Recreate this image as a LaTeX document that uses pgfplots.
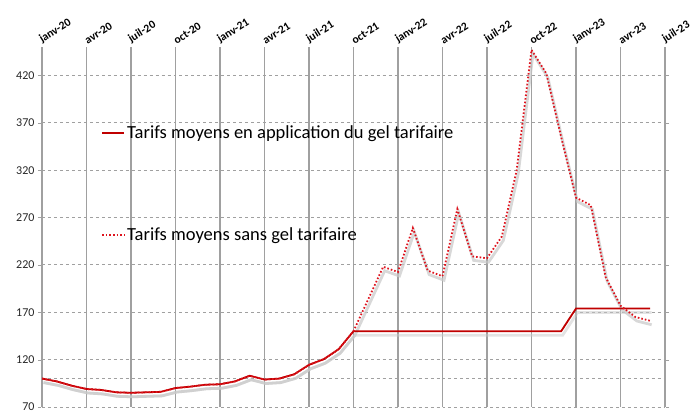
\documentclass[border=0pt]{standalone}
\usepackage{fontspec}
\setmainfont{Carlito}
\usepackage{pgfplots}
\pgfplotsset{compat=1.18}
\usetikzlibrary{calc}

\definecolor{gelred}{RGB}{192,0,0}
\definecolor{dotred}{RGB}{222,20,30}
\definecolor{gridgray}{RGB}{160,160,160}
\definecolor{shadowgray}{RGB}{200,200,200}

% mois depuis janv-20, tarifs moyens (base 100)
\pgfplotstableread{
m avec sans
0 100 100
1 97 97
2 92.5 92.5
3 89 89
4 88 88
5 85.5 85.5
6 85 85
7 85.5 85.5
8 86 86
9 90 90
10 91.5 91.5
11 93.5 93.5
12 94 94
13 97 97
14 103 103
15 99 99
16 100 100
17 104.5 104.5
18 114.5 114.5
19 120.5 120.5
20 131 131
21 150 150
22 150 184
23 150 218
24 150 212.5
25 150 259
26 150 214
27 150 208
28 150 279
29 150 229
30 150 227
31 150 250
32 150 320
33 150 447
34 150 422
35 150 355
36 174 291
37 174 283
38 174 207
39 174 177
40 174 165
41 174 161
}\tarifs

\begin{document}
\begin{tikzpicture}
\begin{axis}[
    scale only axis,
    width=623bp, height=360bp,
    xmin=0, xmax=42,
    ymin=70, ymax=450,
    axis line style={draw=none},
    xtick={0,3,...,42},
    xticklabels={janv-20,avr-20,juil-20,oct-20,janv-21,avr-21,juil-21,oct-21,janv-22,avr-22,juil-22,oct-22,janv-23,avr-23,juil-23},
    xticklabel pos=upper,
    xtick style={draw=none},
    xticklabel style={font=\bfseries\fontsize{11.5bp}{13bp}\selectfont, rotate=32, anchor=south west, inner sep=1bp, xshift=-1bp, yshift=-3bp},
    ytick={70,120,...,420},
    ytick style={gridgray, dashed},
    major tick length=4bp,
    tick align=outside,
    yticklabel style={font=\fontsize{12bp}{14bp}\selectfont, text=black!85},
    /pgf/number format/assume math mode=true,
    xmajorgrids, ymajorgrids,
    x grid style={gridgray, line width=1.1bp},
    y grid style={gridgray, dashed, line width=0.8bp},
    extra y ticks={100},
    extra y tick labels={},
    extra y tick style={grid=major, major grid style={gridgray, solid, line width=0.9bp}, major tick length=0bp},
    legend style={at={(rel axis cs:0.095,0.793)}, anchor=north west, draw=none, fill=none,
        font=\fontsize{18.5bp}{22bp}\selectfont, row sep=84bp, inner xsep=0bp,
        /tikz/every odd column/.append style={column sep=0bp}},
    legend cell align=left,
    legend image code/.code={\draw[#1] (0bp,0bp) -- (22bp,0bp);},
]
% ombres
\addplot[forget plot, shadowgray, line width=2.8bp, opacity=0.7, transform canvas={xshift=1.5bp, yshift=-4bp}] table[x=m, y=sans] {\tarifs};
\addplot[forget plot, shadowgray, line width=2.8bp, opacity=0.5, transform canvas={xshift=1.5bp, yshift=-4bp}] table[x=m, y=avec] {\tarifs};
% series
\addplot[gelred, line width=1.8bp] table[x=m, y=avec] {\tarifs};
\addlegendentry{Tarifs moyens en application du gel tarifaire}
\addplot[dotred, line width=1.8bp, dash pattern=on 1.6bp off 2bp] table[x=m, y=sans] {\tarifs};
\addlegendentry{Tarifs moyens sans gel tarifaire}
\coordinate (sw) at (rel axis cs:0,0);
\coordinate (ne) at (rel axis cs:1,1);
\end{axis}
\pgfresetboundingbox
\path ($(sw)+(-42bp,-12bp)$) rectangle ($(ne)+(35bp,47bp)$);
\end{tikzpicture}
\end{document}
